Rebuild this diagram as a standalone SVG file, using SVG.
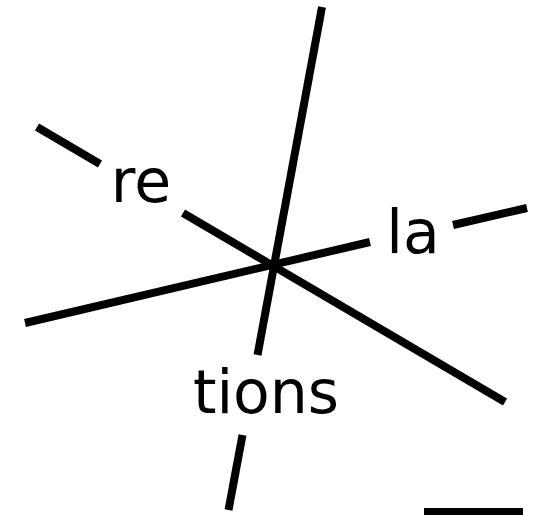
<svg xmlns="http://www.w3.org/2000/svg" width="549" height="515" viewBox="0 0 549 515">
<style>
.l{stroke:#000;stroke-width:8;fill:none;stroke-linecap:butt}
.t{font-family:"DejaVu Sans",Verdana,sans-serif;font-size:60px;fill:#000;text-anchor:middle}
</style>
<rect width="549" height="515" fill="#fff"/>
<g id="connectors">
<line class="l" x1="322" y1="7" x2="257.5" y2="355"/>
<line class="l" x1="242.5" y1="435" x2="228.5" y2="510"/>
<line class="l" x1="37" y1="127" x2="100" y2="164"/>
<line class="l" x1="183" y1="213" x2="505" y2="402"/>
<line class="l" x1="25" y1="323" x2="370" y2="242"/>
<line class="l" x1="453" y1="225" x2="527" y2="208"/>
</g>
<g id="label-re"><text class="t" x="141" y="202">re</text></g>
<g id="label-la"><text class="t" x="413" y="253">la</text></g>
<g id="label-tions"><text class="t" x="266" y="413">tions</text></g>
<g id="scalebar"><rect x="424" y="508" width="99" height="7" fill="#000"/></g>
</svg>
